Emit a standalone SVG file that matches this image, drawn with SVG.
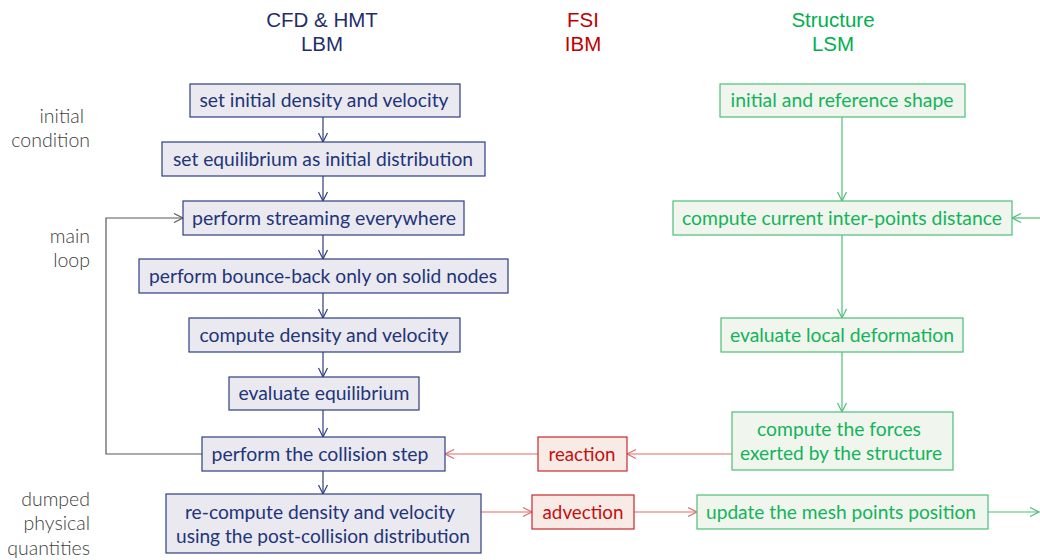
<svg xmlns="http://www.w3.org/2000/svg" width="1040" height="560" viewBox="0 0 1040 560">
  <style>
    .head { font-family: "Liberation Sans", Arial, sans-serif; font-size: 20.5px; text-anchor: middle; }
    .side { font-family: Lato, "Open Sans", sans-serif; font-size: 19.5px; fill: #404040; text-anchor: end; font-weight: 300; }
    .t { font-family: Lato, "Open Sans", sans-serif; font-size: 19.5px; text-anchor: middle; }
    .navy rect { fill: #e9e9ef; stroke: #2e3f7f; stroke-width: 1.2; }
    .navy text { fill: #23347a; }
    .green rect { fill: #f0f5ee; stroke: #4cc07a; stroke-width: 1.2; }
    .green text { fill: #12b45a; }
    .red rect { fill: #f8ebe6; stroke: #c8282c; stroke-width: 1.2; }
    .red text { fill: #c41010; }
    .cn { fill: none; stroke-width: 1.2; }
    .cn-navy { stroke: #2e3f7f; }
    .cn-gray { stroke: #595959; }
    .cn-green { stroke: #4cc07a; }
    .cn-red { stroke: #e06a6a; }
  </style>
  <defs>
    <marker id="ah-navy" markerUnits="userSpaceOnUse" markerWidth="12" markerHeight="12" viewBox="0 0 12 12" refX="10" refY="6" orient="auto">
      <path d="M1,1.5 L10,6 L1,10.5" fill="none" stroke="#2e3f7f" stroke-width="1.2"/>
    </marker>
    <marker id="ah-gray" markerUnits="userSpaceOnUse" markerWidth="12" markerHeight="12" viewBox="0 0 12 12" refX="10" refY="6" orient="auto">
      <path d="M1,1.5 L10,6 L1,10.5" fill="none" stroke="#595959" stroke-width="1.2"/>
    </marker>
    <marker id="ah-green" markerUnits="userSpaceOnUse" markerWidth="12" markerHeight="12" viewBox="0 0 12 12" refX="10" refY="6" orient="auto">
      <path d="M1,1.5 L10,6 L1,10.5" fill="none" stroke="#4cc07a" stroke-width="1.2"/>
    </marker>
    <marker id="ah-red" markerUnits="userSpaceOnUse" markerWidth="12" markerHeight="12" viewBox="0 0 12 12" refX="10" refY="6" orient="auto">
      <path d="M1,1.5 L10,6 L1,10.5" fill="none" stroke="#e06a6a" stroke-width="1.2"/>
    </marker>
  </defs>

  <!-- column headers -->
  <g id="headers">
    <text class="head" x="322" y="27" fill="#1f2d6b">CFD &amp; HMT</text>
    <text class="head" x="322" y="51" fill="#1f2d6b">LBM</text>
    <text class="head" x="583" y="27" fill="#c00000">FSI</text>
    <text class="head" x="583" y="51" fill="#c00000">IBM</text>
    <text class="head" x="833" y="27" fill="#00b050">Structure</text>
    <text class="head" x="833" y="51" fill="#00b050">LSM</text>
  </g>

  <!-- phase labels -->
  <g id="phases">
    <text class="side" x="84" y="123">initial</text>
    <text class="side" x="90" y="147">condition</text>
    <text class="side" x="90" y="243">main</text>
    <text class="side" x="90" y="267">loop</text>
    <text class="side" x="90" y="506">dumped</text>
    <text class="side" x="90" y="530">physical</text>
    <text class="side" x="90" y="555">quantities</text>
  </g>

  <!-- connectors -->
  <g id="connectors">
    <line class="cn cn-navy" x1="323" y1="117" x2="323" y2="142" marker-end="url(#ah-navy)"/>
    <line class="cn cn-navy" x1="323" y1="176" x2="323" y2="201" marker-end="url(#ah-navy)"/>
    <line class="cn cn-navy" x1="323" y1="235" x2="323" y2="259" marker-end="url(#ah-navy)"/>
    <line class="cn cn-navy" x1="323" y1="293" x2="323" y2="318" marker-end="url(#ah-navy)"/>
    <line class="cn cn-navy" x1="323" y1="352" x2="323" y2="377" marker-end="url(#ah-navy)"/>
    <line class="cn cn-navy" x1="323" y1="410" x2="323" y2="437" marker-end="url(#ah-navy)"/>
    <line class="cn cn-navy" x1="323" y1="471" x2="323" y2="494" marker-end="url(#ah-navy)"/>
    <polyline class="cn cn-gray" points="202,454 106,454 106,218 183,218" marker-end="url(#ah-gray)"/>
    <line class="cn cn-green" x1="842" y1="117" x2="842" y2="201" marker-end="url(#ah-green)"/>
    <line class="cn cn-green" x1="842" y1="235" x2="842" y2="318" marker-end="url(#ah-green)"/>
    <line class="cn cn-green" x1="842" y1="352" x2="842" y2="412" marker-end="url(#ah-green)"/>
    <line class="cn cn-green" x1="1040" y1="218" x2="1012" y2="218" marker-end="url(#ah-green)"/>
    <line class="cn cn-green" x1="988" y1="512" x2="1039" y2="512" marker-end="url(#ah-green)"/>
    <line class="cn cn-red" x1="732" y1="454" x2="627" y2="454" marker-end="url(#ah-red)"/>
    <line class="cn cn-red" x1="538" y1="454" x2="445" y2="454" marker-end="url(#ah-red)"/>
    <line class="cn cn-red" x1="481" y1="512" x2="532" y2="512" marker-end="url(#ah-red)"/>
    <line class="cn cn-red" x1="634" y1="512" x2="697" y2="512" marker-end="url(#ah-red)"/>
  </g>

  <!-- LBM column -->
  <g id="set-initial" class="navy">
    <rect x="190" y="84" width="270" height="33"/>
    <text class="t" x="324" y="107" textLength="249" lengthAdjust="spacingAndGlyphs">set initial density and velocity</text>
  </g>
  <g id="set-equilibrium" class="navy">
    <rect x="162" y="142" width="323" height="34"/>
    <text class="t" x="323" y="166" textLength="300" lengthAdjust="spacingAndGlyphs">set equilibrium as initial distribution</text>
  </g>
  <g id="streaming" class="navy">
    <rect x="183" y="201" width="281" height="34"/>
    <text class="t" x="324" y="225" textLength="264" lengthAdjust="spacingAndGlyphs">perform streaming everywhere</text>
  </g>
  <g id="bounce-back" class="navy">
    <rect x="139" y="259" width="369" height="34"/>
    <text class="t" x="323" y="283" textLength="348" lengthAdjust="spacingAndGlyphs">perform bounce-back only on solid nodes</text>
  </g>
  <g id="compute-density" class="navy">
    <rect x="189" y="318" width="271" height="34"/>
    <text class="t" x="324" y="342" textLength="249" lengthAdjust="spacingAndGlyphs">compute density and velocity</text>
  </g>
  <g id="eval-equilibrium" class="navy">
    <rect x="229" y="377" width="190" height="33"/>
    <text class="t" x="324" y="400" textLength="171" lengthAdjust="spacingAndGlyphs">evaluate equilibrium</text>
  </g>
  <g id="collision" class="navy">
    <rect x="202" y="437" width="243" height="34"/>
    <text class="t" x="320" y="461" textLength="217" lengthAdjust="spacingAndGlyphs">perform the collision step</text>
  </g>
  <g id="recompute" class="navy">
    <rect x="166" y="494" width="315" height="59"/>
    <text class="t" x="320" y="519" textLength="270" lengthAdjust="spacingAndGlyphs">re-compute density and velocity</text>
    <text class="t" x="323" y="543" textLength="294" lengthAdjust="spacingAndGlyphs">using the post-collision distribution</text>
  </g>

  <!-- IBM column -->
  <g id="reaction" class="red">
    <rect x="538" y="437" width="89" height="34"/>
    <text class="t" x="582" y="461" textLength="67" lengthAdjust="spacingAndGlyphs">reaction</text>
  </g>
  <g id="advection" class="red">
    <rect x="532" y="495" width="102" height="34"/>
    <text class="t" x="583" y="519" textLength="81" lengthAdjust="spacingAndGlyphs">advection</text>
  </g>

  <!-- LSM column -->
  <g id="reference-shape" class="green">
    <rect x="720" y="84" width="245" height="33"/>
    <text class="t" x="842" y="107" textLength="223" lengthAdjust="spacingAndGlyphs">initial and reference shape</text>
  </g>
  <g id="inter-points" class="green">
    <rect x="673" y="201" width="339" height="34"/>
    <text class="t" x="842" y="225" textLength="320" lengthAdjust="spacingAndGlyphs">compute current inter-points distance</text>
  </g>
  <g id="deformation" class="green">
    <rect x="721" y="318" width="242" height="34"/>
    <text class="t" x="842" y="342" textLength="224" lengthAdjust="spacingAndGlyphs">evaluate local deformation</text>
  </g>
  <g id="forces" class="green">
    <rect x="732" y="412" width="221" height="58"/>
    <text class="t" x="839" y="436" textLength="164" lengthAdjust="spacingAndGlyphs">compute the forces</text>
    <text class="t" x="841" y="460" textLength="202" lengthAdjust="spacingAndGlyphs">exerted by the structure</text>
  </g>
  <g id="mesh-update" class="green">
    <rect x="697" y="495" width="291" height="34"/>
    <text class="t" x="841" y="519" textLength="270" lengthAdjust="spacingAndGlyphs">update the mesh points position</text>
  </g>
</svg>
